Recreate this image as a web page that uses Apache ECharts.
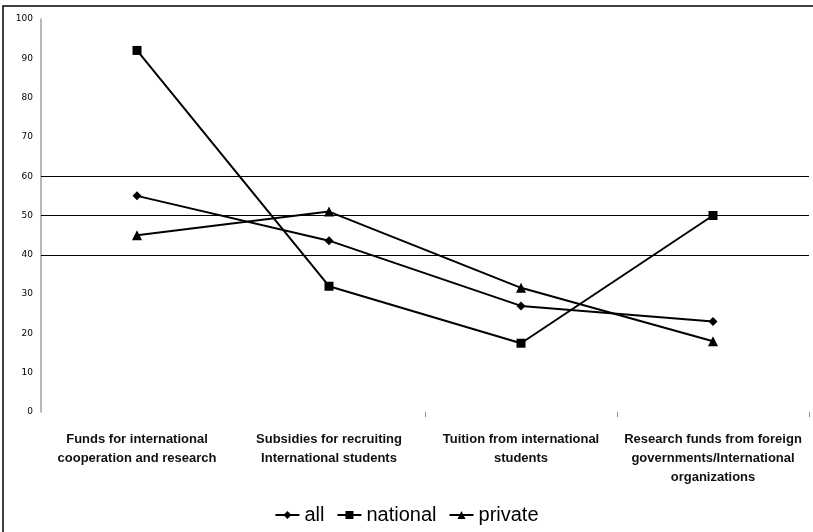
<!DOCTYPE html>
<html>
<head>
<meta charset="utf-8">
<script src="https://cdn.jsdelivr.net/npm/echarts@6/dist/echarts.min.js"></script>
<style>
  html, body { margin: 0; padding: 0; background: #fff; }
  #chart { width: 813px; height: 532px; }
</style>
</head>
<body>
<div id="chart"></div>
<script>
// Funding sources by institution type (percent)
const categories = [
  'Funds for international\ncooperation and research',
  'Subsidies for recruiting\nInternational students',
  'Tuition from international\nstudents',
  'Research funds from foreign\ngovernments/International\norganizations'
];
const allValues = [55, 43.6, 27, 23];
const nationalValues = [92, 32, 17.5, 50];
const privateValues = [45, 51, 31.6, 18];
const highlightLevels = [40, 50, 60];
const yTicks = { min: 0, max: 100, interval: 10 };

const chart = echarts.init(document.getElementById('chart'));

function lineSeries(name, data, symbol, size) {
  return {
    name: name,
    type: 'line',
    data: data,
    symbol: symbol,
    symbolSize: size,
    lineStyle: { color: '#000', width: 2 },
    itemStyle: { color: '#000' },
    animation: false
  };
}

const series = [
  lineSeries('all', allValues, 'diamond', 9),
  lineSeries('national', nationalValues, 'rect', 9),
  lineSeries('private', privateValues, 'triangle', 10)
];
series[0].markLine = {
  silent: true,
  symbol: 'none',
  label: { show: false },
  lineStyle: { color: '#000', width: 1, type: 'solid' },
  data: highlightLevels.map(v => ({ yAxis: v })),
  animation: false
};

chart.setOption({
  backgroundColor: '#fff',
  animation: false,
  graphic: [{
    type: 'rect',
    shape: { x: 3, y: 6, width: 900, height: 600 },
    style: { fill: 'none', stroke: '#000', lineWidth: 1.5 },
    silent: true
  }],
  grid: { left: 41, right: 4, top: 19, bottom: 120, containLabel: false },
  legend: {
    bottom: 2,
    left: 'center',
    itemWidth: 24,
    itemHeight: 10,
    itemGap: 12,
    textStyle: { fontFamily: 'Liberation Sans', fontSize: 20, color: '#000' },
    data: ['all', 'national', 'private']
  },
  xAxis: {
    type: 'category',
    data: categories,
    boundaryGap: true,
    axisLine: { show: false },
    axisTick: {
      show: true,
      length: 5,
      inside: false,
      interval: function (index) { return index >= 2; },
      lineStyle: { color: '#888', width: 1 }
    },
    axisLabel: {
      interval: 0,
      margin: 18,
      fontFamily: 'Liberation Sans',
      fontSize: 13,
      fontWeight: 'bold',
      lineHeight: 19,
      color: '#111',
      align: 'center'
    },
    splitLine: { show: false }
  },
  yAxis: {
    type: 'value',
    min: yTicks.min,
    max: yTicks.max,
    interval: yTicks.interval,
    axisLine: { show: true, lineStyle: { color: '#a0a0a0', width: 1.5 } },
    axisTick: { show: false },
    splitLine: { show: false },
    axisLabel: {
      margin: 8,
      fontFamily: 'DejaVu Sans',
      fontSize: 9,
      color: '#000'
    }
  },
  series: series
});
</script>
</body>
</html>
